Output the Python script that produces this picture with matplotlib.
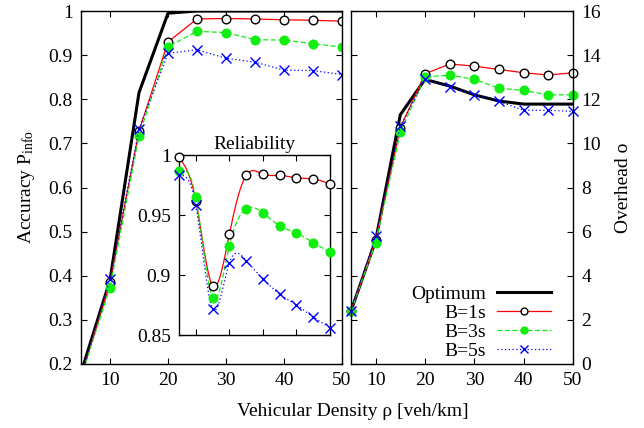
import numpy as np
import matplotlib
matplotlib.use('Agg')
import matplotlib.pyplot as plt
from matplotlib.ticker import FuncFormatter, MultipleLocator

# ---------------- data ----------------
density = [5, 10, 15, 20, 25, 30, 35, 40, 45, 50]

acc_opt = [0.18, 0.39, 0.815, 0.995, 1.0, 1.0, 1.0, 1.0, 1.0, 1.0]
acc_b1 = [0.17, 0.385, 0.728, 0.930, 0.982, 0.983, 0.982, 0.980, 0.979, 0.977]
acc_b3 = [0.17, 0.373, 0.717, 0.919, 0.954, 0.951, 0.935, 0.934, 0.926, 0.918]
acc_b5 = [0.17, 0.392, 0.732, 0.904, 0.912, 0.893, 0.884, 0.866, 0.865, 0.856]

ovh_opt = [2.4, 5.6, 11.3, 12.9, 12.6, 12.2, 11.92, 11.78, 11.78, 11.78]
ovh_b1 = [2.4, 5.6, 10.7, 13.15, 13.6, 13.5, 13.35, 13.2, 13.1, 13.2]
ovh_b3 = [2.4, 5.5, 10.5, 13.0, 13.1, 12.9, 12.5, 12.4, 12.2, 12.2]
ovh_b5 = [2.4, 5.8, 10.8, 12.9, 12.55, 12.2, 11.9, 11.5, 11.5, 11.45]

rel_b1 = [0.998, 0.962, 0.891, 0.934, 0.983, 0.984, 0.983, 0.981, 0.980, 0.976]
rel_b3 = [0.987, 0.965, 0.881, 0.924, 0.955, 0.952, 0.941, 0.935, 0.927, 0.919]
rel_b5 = [0.983, 0.958, 0.872, 0.910, 0.912, 0.897, 0.884, 0.875, 0.865, 0.856]

labels = ['Optimum', 'B=1s', 'B=3s', 'B=5s']
xticks = [10, 20, 30, 40, 50]

# ---------------- style ----------------
plt.rcParams['font.family'] = ['Liberation Serif', 'DejaVu Serif']
plt.rcParams['mathtext.fontset'] = 'custom'
plt.rcParams['mathtext.rm'] = 'Liberation Serif'
plt.rcParams['mathtext.it'] = 'Liberation Serif:italic'
plt.rcParams['font.size'] = 14
plt.rcParams['axes.linewidth'] = 1.0

RED = '#ff0000'
GREEN = '#11ee11'
BLUE = '#0000ff'

sty_opt = dict(color='black', lw=2.2)
sty_b1 = dict(color=RED, lw=0.9, ls='-', marker='o', mfc='white', mec='black',
              mew=1.0, ms=6.2)
sty_b3 = dict(color=GREEN, lw=0.9, ls=(0, (4, 2)), marker='o', mfc=GREEN,
              mec=GREEN, ms=6.2)
sty_b5 = dict(color=BLUE, lw=0.9, ls=(0, (1, 2)), marker='x', mfc=BLUE,
              mec=BLUE, mew=1.0, ms=6.5)

fmt = FuncFormatter(lambda v, p: '%g' % v)


def natural_spline(x, y, n=300):
    x = np.asarray(x, float)
    y = np.asarray(y, float)
    m = len(x)
    h = np.diff(x)
    A = np.zeros((m, m))
    b = np.zeros(m)
    A[0, 0] = A[-1, -1] = 1
    for i in range(1, m - 1):
        A[i, i - 1] = h[i - 1]
        A[i, i] = 2 * (h[i - 1] + h[i])
        A[i, i + 1] = h[i]
        b[i] = 3 * ((y[i + 1] - y[i]) / h[i] - (y[i] - y[i - 1]) / h[i - 1])
    c = np.linalg.solve(A, b)
    xs = np.linspace(x[0], x[-1], n)
    idx = np.clip(np.searchsorted(x, xs) - 1, 0, m - 2)
    dx = xs - x[idx]
    bb = (y[idx + 1] - y[idx]) / h[idx] - h[idx] * (2 * c[idx] + c[idx + 1]) / 3
    dd = (c[idx + 1] - c[idx]) / (3 * h[idx])
    ys = y[idx] + bb * dx + c[idx] * dx ** 2 + dd * dx ** 3
    return xs, ys


def style_axes(ax):
    ax.tick_params(direction='in', which='both', top=True, bottom=True,
                   left=True, right=True, length=4, width=0.8,
                   labelsize=14, pad=6)


W, H = 644, 428
fig = plt.figure(figsize=(W / 100, H / 100), dpi=100)

def rect(l, r, t, b):
    return [l / W, 1 - b / H, (r - l) / W, (b - t) / H]

ax1 = fig.add_axes(rect(81, 342, 11, 364))
ax2 = fig.add_axes(rect(351, 573, 11, 364))
axi = fig.add_axes(rect(179, 330, 155, 335))

# left: accuracy
ax1.plot(density, acc_opt, **sty_opt)
ax1.plot(density, acc_b1, **sty_b1)
ax1.plot(density, acc_b3, **sty_b3)
ax1.plot(density, acc_b5, **sty_b5)
ax1.set_xlim(5, 50)
ax1.set_ylim(0.2, 1.0)
ax1.set_xticks(xticks)
ax1.yaxis.set_major_locator(MultipleLocator(0.1))
ax1.yaxis.set_major_formatter(fmt)
style_axes(ax1)
ax1.set_ylabel(r'Accuracy P$_{\mathrm{info}}$', fontsize=14, labelpad=8)

# right: overhead
l0, = ax2.plot(density, ovh_opt, **sty_opt)
l1, = ax2.plot(density, ovh_b1, **sty_b1, clip_on=False)
l2, = ax2.plot(density, ovh_b3, **sty_b3, clip_on=False)
l3, = ax2.plot(density, ovh_b5, **sty_b5, clip_on=False)
ax2.set_xlim(5, 50)
ax2.set_ylim(0, 16)
ax2.set_xticks(xticks)
ax2.yaxis.set_major_locator(MultipleLocator(2))
ax2.yaxis.set_major_formatter(fmt)
style_axes(ax2)
ax2.tick_params(labelleft=False, labelright=True)
ax2.yaxis.set_label_position('right')
ax2.set_ylabel('Overhead o', fontsize=14, labelpad=10)

leg = ax2.legend([l0, l1, l2, l3], labels, markerfirst=False, frameon=False,
                 loc='lower right', alignment='right',
                 bbox_to_anchor=(551 / W, (H - 360) / H),
                 bbox_transform=fig.transFigure, borderpad=0,
                 borderaxespad=0, numpoints=1, markerscale=0.8,
                 handlelength=2.8, handletextpad=0.55, labelspacing=0.07,
                 fontsize=14)

# inset: reliability (smoothed curves)
for vals, sty in ((rel_b1, sty_b1), (rel_b3, sty_b3), (rel_b5, sty_b5)):
    xs, ys = natural_spline(density, vals)
    axi.plot(xs, ys, color=sty['color'], lw=sty['lw'], ls=sty['ls'])
    axi.plot(density, vals, ls='none', marker=sty['marker'], mfc=sty['mfc'],
             mec=sty['mec'], mew=sty.get('mew', 1.0), ms=sty['ms'],
             clip_on=False, zorder=3)
axi.set_xlim(5, 50)
axi.set_ylim(0.85, 1.0)
axi.set_xticks([10, 20, 30, 40])
axi.set_yticks([0.85, 0.9, 0.95, 1.0])
axi.yaxis.set_major_formatter(fmt)
style_axes(axi)
axi.tick_params(labelbottom=False)
axi.set_title('Reliability', fontsize=14, pad=4)

fig.text(353 / W, 1 - 412 / H, 'Vehicular Density ρ [veh/km]',
         ha='center', va='center', fontsize=14)

fig.savefig('out.png', dpi=100)
